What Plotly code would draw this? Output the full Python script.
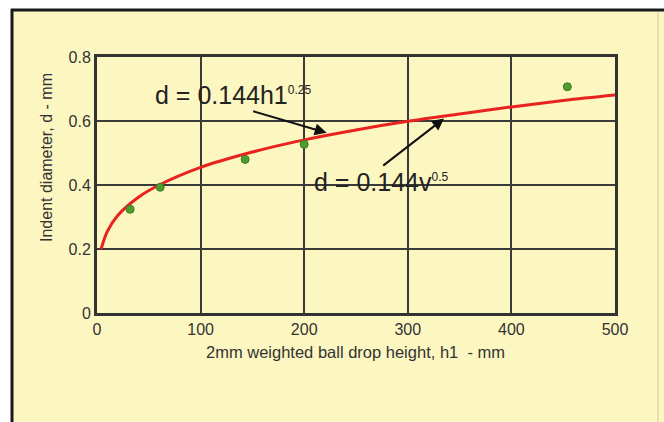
import plotly.graph_objects as go

# Fitted curve d = 0.144 h1^0.25
curve_h = [4, 10, 20, 40, 60, 100, 150, 200, 250, 300, 350, 400, 450, 500]
curve_d = [0.20, 0.255, 0.305, 0.362, 0.40, 0.455, 0.503, 0.541, 0.572, 0.599, 0.622, 0.644, 0.664, 0.681]

# Measured points
pts_h = [32, 61, 143, 200, 454]
pts_d = [0.324, 0.393, 0.480, 0.527, 0.707]

x_ticks = [0, 100, 200, 300, 400, 500]
y_ticks = [0, 0.2, 0.4, 0.6, 0.8]

W, H = 664, 422
L, R, T, B = 97, 615, 57, 313
pw, ph = R - L, B - T

def px(xp):
    return (xp - L) / pw

def py(yp):
    return (B - yp) / ph

YELLOW = "#FCF6C1"
FONT = "Liberation Sans, Arial, sans-serif"

fig = go.Figure()
fig.add_trace(go.Scatter(x=curve_h, y=curve_d, mode="lines",
                         line=dict(color="#E8231E", width=3, shape="spline"),
                         hoverinfo="skip", showlegend=False))
fig.add_trace(go.Scatter(x=pts_h, y=pts_d, mode="markers",
                         marker=dict(color="#4E9E2E", size=8,
                                     line=dict(color="#3A7A22", width=1)),
                         showlegend=False))

shapes = [
    dict(type="rect", xref="paper", yref="paper", layer="below",
         x0=px(11), x1=px(664), y0=py(422), y1=py(9),
         fillcolor=YELLOW, line=dict(width=0)),
    dict(type="line", xref="paper", yref="paper", layer="below",
         x0=px(658), x1=px(658), y0=py(422), y1=py(9),
         line=dict(color="#E6DFAE", width=2)),
    dict(type="line", xref="paper", yref="paper",
         x0=px(12), x1=px(12), y0=py(422), y1=py(9),
         line=dict(color="#1a1a1a", width=3)),
    dict(type="line", xref="paper", yref="paper",
         x0=px(11), x1=px(664), y0=py(10), y1=py(10),
         line=dict(color="#1a1a1a", width=3)),
]

SUP = "<sup><span style='font-size:12px'>%s</span></sup>"

annotations = [
    dict(text="d = 0.144h1" + SUP % "0.25", x=54, y=0.681, xref="x", yref="y",
         xanchor="left", yanchor="middle", showarrow=False,
         font=dict(family=FONT, size=25, color="#222222")),
    dict(text="d = 0.144v" + SUP % "0.5", x=207.5, y=0.409, xref="x", yref="y",
         xanchor="left", yanchor="middle", showarrow=False,
         font=dict(family=FONT, size=25, color="#222222")),
    dict(text="", x=221.7, y=0.563, ax=149.3, ay=0.632, xref="x", yref="y",
         axref="x", ayref="y", showarrow=True, arrowhead=2, arrowsize=1.2,
         arrowwidth=2, arrowcolor="#111111"),
    dict(text="", x=335, y=0.608, ax=274.8, ay=0.457, xref="x", yref="y",
         axref="x", ayref="y", showarrow=True, arrowhead=2, arrowsize=1.2,
         arrowwidth=2, arrowcolor="#111111"),
    dict(text="2mm weighted ball drop height, h1  - mm", x=px(355), y=py(352),
         xref="paper", yref="paper", xanchor="center", yanchor="middle",
         showarrow=False, font=dict(family=FONT, size=16.5, color="#333333")),
    dict(text="Indent diameter, d - mm", x=px(46), y=py(158), textangle=-90,
         xref="paper", yref="paper", xanchor="center", yanchor="middle",
         showarrow=False, font=dict(family=FONT, size=16, color="#333333")),
]

fig.update_layout(
    width=W, height=H,
    margin=dict(l=L, r=W - R, t=T, b=H - B),
    paper_bgcolor="white", plot_bgcolor=YELLOW,
    shapes=shapes, annotations=annotations,
    font=dict(family=FONT),
)
fig.update_xaxes(range=[0, 500], tickvals=x_ticks, ticktext=[str(v) for v in x_ticks],
                 showgrid=True, gridcolor="#3a3a3a", gridwidth=2,
                 showline=True, mirror=True, linecolor="#333333", linewidth=3,
                 zeroline=False, ticks="",
                 tickfont=dict(family=FONT, size=16, color="#333333"))
fig.update_yaxes(range=[0, 0.8], tickvals=y_ticks, ticktext=["0", "0.2", "0.4", "0.6", "0.8"],
                 showgrid=True, gridcolor="#3a3a3a", gridwidth=2,
                 showline=True, mirror=True, linecolor="#333333", linewidth=3,
                 zeroline=False, ticks="",
                 tickfont=dict(family=FONT, size=16, color="#333333"))

fig.write_html("out.html", config={"displayModeBar": False},
               post_script="document.body.style.margin='0';document.body.style.overflow='hidden';")
